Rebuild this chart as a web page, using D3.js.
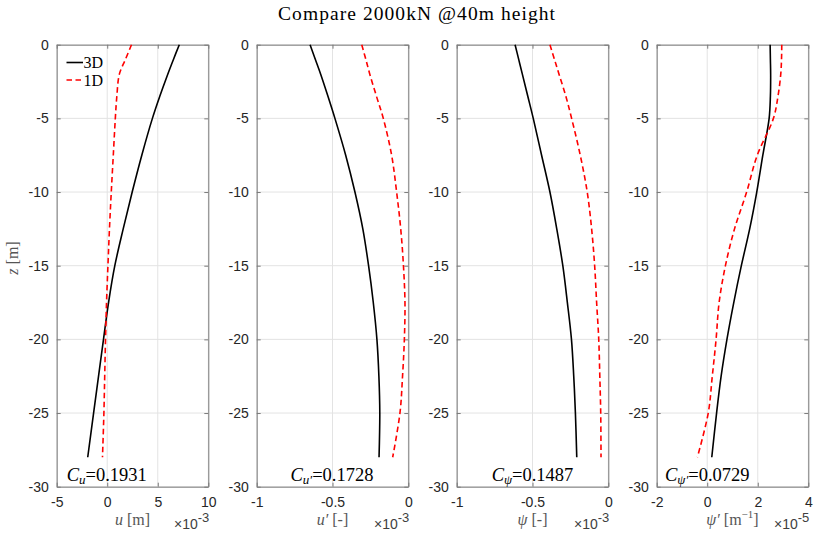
<!DOCTYPE html>
<html>
<head>
<meta charset="utf-8">
<script src="https://cdn.jsdelivr.net/npm/d3@7"></script>
<style>
  html, body { margin: 0; padding: 0; background: #fff; }
  svg { display: block; }
</style>
</head>
<body>
<svg id="chart" width="815" height="536"></svg>
<script>
// Depth below the pile head [m]
const depth = [0, -1, -2, -3.5, -5, -7.5, -10, -12.5, -15, -17.5, -20, -22.5, -25, -28];

// Lateral displacement u (x1e-3 m)
const u3D = [7.13, 6.55, 5.99, 5.2, 4.47, 3.42, 2.47, 1.58, 0.75, 0.13, -0.37, -0.86, -1.35, -1.93];
const u1D = [2.4, 1.8, 1.2, 0.95, 0.8, 0.6, 0.4, 0.22, 0.07, -0.07, -0.17, -0.25, -0.33, -0.47];

// Rotation u' (x1e-3)
const du3D = [-0.648, -0.613, -0.578, -0.53, -0.484, -0.413, -0.352, -0.30, -0.262, -0.231, -0.207, -0.194, -0.188, -0.193];
const du1D = [-0.307, -0.28, -0.254, -0.21, -0.165, -0.11, -0.077, -0.05, -0.032, -0.022, -0.026, -0.038, -0.055, -0.103];

// Shear angle psi (x1e-3)
const psi3D = [-0.615, -0.591, -0.567, -0.531, -0.495, -0.44, -0.385, -0.34, -0.30, -0.27, -0.243, -0.228, -0.217, -0.208];
const psi1D = [-0.385, -0.355, -0.325, -0.28, -0.242, -0.185, -0.139, -0.11, -0.09, -0.077, -0.063, -0.056, -0.05, -0.048];

// Curvature psi' (x1e-5 1/m)
const dpsi3D = [2.49, 2.50, 2.51, 2.50, 2.45, 2.2, 1.96, 1.68, 1.35, 1.05, 0.78, 0.55, 0.37, 0.18];
const dpsi1D = [2.95, 2.94, 2.91, 2.8, 2.62, 1.98, 1.56, 1.08, 0.72, 0.47, 0.35, 0.2, 0.04, -0.39];

// Axis ticks
const zTicks = [0, -5, -10, -15, -20, -25, -30];
const uTicks = [-5, 0, 5, 10];
const duTicks = [-1, -0.5, 0];
const psiTicks = [-1, -0.5, 0];
const dpsiTicks = [-2, 0, 2, 4];

// Correlation coefficients shown in each panel
const corr = [0.1931, 0.1728, 0.1487, 0.0729];

const svg = d3.select("#chart");
const serif = "'Liberation Serif', 'Times New Roman', 'DejaVu Serif', serif";
const sans = "'Liberation Sans', Arial, sans-serif";
const axisColor = "#262626";
const tickText = d => String(d);

const plotTop = 44.7, plotBottom = 486.7, pw = 151.6;
const lefts = [56.7, 256.7, 456.7, 656.7];

const y = d3.scaleLinear().domain([-30, 0]).range([plotBottom, plotTop]);

const panels = [
  { dom: [-5, 10], ticks: uTicks, s3: u3D, s1: u1D, exp: "-3", sym: "u", sub: "u", subPrime: false, anchor: "start", ax: 66.7 },
  { dom: [-1, 0], ticks: duTicks, s3: du3D, s1: du1D, exp: "-3", sym: "u′", sub: "u", subPrime: true, anchor: "middle", ax: 332 },
  { dom: [-1, 0], ticks: psiTicks, s3: psi3D, s1: psi1D, exp: "-3", sym: "ψ", sub: "ψ", subPrime: false, anchor: "middle", ax: 532.5 },
  { dom: [-2, 4], ticks: dpsiTicks, s3: dpsi3D, s1: dpsi1D, exp: "-5", sym: "ψ′", sub: "ψ", subPrime: true, anchor: "start", ax: 665 }
];
const unitLabels = ["m", "-", "-", "m-1"];

panels.forEach((p, i) => {
  const x0 = lefts[i];
  const x = d3.scaleLinear().domain(p.dom).range([x0, x0 + pw]);
  const g = svg.append("g");

  // grid
  g.selectAll("line.gx").data(p.ticks).join("line")
    .attr("x1", d => x(d)).attr("x2", d => x(d))
    .attr("y1", plotTop).attr("y2", plotBottom)
    .attr("stroke", "#e3e3e3").attr("stroke-width", 1);
  g.selectAll("line.gy").data(zTicks).join("line")
    .attr("x1", x0).attr("x2", x0 + pw)
    .attr("y1", d => y(d)).attr("y2", d => y(d))
    .attr("stroke", "#e3e3e3").attr("stroke-width", 1);

  // axes with inward ticks
  const bx = g.append("g").attr("transform", `translate(0,${plotBottom})`)
    .call(d3.axisBottom(x).tickValues(p.ticks).tickSizeInner(-4).tickSizeOuter(0).tickPadding(10).tickFormat(tickText));
  const tx = g.append("g").attr("transform", `translate(0,${plotTop})`)
    .call(d3.axisTop(x).tickValues(p.ticks).tickSizeInner(-4).tickSizeOuter(0).tickFormat(""));
  const ly = g.append("g").attr("transform", `translate(${x0},0)`)
    .call(d3.axisLeft(y).tickValues(zTicks).tickSizeInner(-4).tickSizeOuter(0).tickPadding(8).tickFormat(tickText));
  const ry = g.append("g").attr("transform", `translate(${x0 + pw},0)`)
    .call(d3.axisRight(y).tickValues(zTicks).tickSizeInner(-4).tickSizeOuter(0).tickFormat(""));
  [bx, tx, ly, ry].forEach(a => {
    a.select(".domain").attr("stroke", "#7a7a7a").attr("stroke-width", 1);
    a.selectAll(".tick line").attr("stroke", "#7a7a7a");
    a.selectAll("text").attr("font-family", sans).attr("font-size", 14).attr("fill", axisColor);
  });
  bx.selectAll("text").attr("dy", "0.71em");

  // curves
  const line = d3.line()
    .x(d => x(d[0])).y(d => y(d[1]))
    .curve(d3.curveCatmullRom.alpha(0.5));
  g.append("path").datum(p.s3.map((v, k) => [v, depth[k]]))
    .attr("d", line).attr("fill", "none").attr("stroke", "#000").attr("stroke-width", 1.6);
  g.append("path").datum(p.s1.map((v, k) => [v, depth[k]]))
    .attr("d", line).attr("fill", "none").attr("stroke", "#ff0000").attr("stroke-width", 1.6)
    .attr("stroke-dasharray", "5.5,3.5");

  // x label
  const xl = g.append("text")
    .attr("x", x0 + pw / 2).attr("y", 525)
    .attr("text-anchor", "middle")
    .attr("font-family", serif).attr("font-size", 16).attr("fill", "#555");
  xl.append("tspan").attr("font-style", "italic").text(p.sym);
  if (unitLabels[i] === "m-1") {
    xl.append("tspan").text(" [m");
    xl.append("tspan").attr("font-size", 11).attr("dy", -7).text("−1");
    xl.append("tspan").attr("dy", 7).text("]");
  } else {
    xl.append("tspan").text(` [${unitLabels[i]}]`);
  }

  // exponent multiplier
  const ex = g.append("text")
    .attr("x", x0 + pw + 1).attr("y", 529)
    .attr("text-anchor", "end")
    .attr("font-family", sans).attr("font-size", 14).attr("fill", "#404040");
  ex.append("tspan").text("×10");
  ex.append("tspan").attr("font-size", 13).attr("dy", -7).text(p.exp);

  // coefficient annotation
  const ct = g.append("text")
    .attr("x", p.ax).attr("y", 481)
    .attr("text-anchor", p.anchor)
    .attr("font-family", serif).attr("font-size", 18.5).attr("fill", "#000");
  ct.append("tspan").attr("font-style", "italic").text("C");
  ct.append("tspan").attr("font-style", "italic").attr("font-size", 13).attr("dy", 3)
    .text(p.sub + (p.subPrime ? "′" : ""));
  ct.append("tspan").attr("dy", -3).text("=" + corr[i].toFixed(4));
});

// y label
svg.append("text")
  .attr("transform", `translate(18,258) rotate(-90)`)
  .attr("text-anchor", "middle")
  .attr("font-family", serif).attr("font-size", 16).attr("fill", "#555")
  .call(t => { t.append("tspan").attr("font-style", "italic").text("z"); t.append("tspan").text(" [m]"); });

// legend
const legend = [{ name: "3D", color: "#000", dash: null }, { name: "1D", color: "#ff0000", dash: "5.5,3.5" }];
legend.forEach((l, k) => {
  const yy = 62.5 + k * 17.5;
  svg.append("line").attr("x1", 66.5).attr("x2", 83).attr("y1", yy).attr("y2", yy)
    .attr("stroke", l.color).attr("stroke-width", 1.6).attr("stroke-dasharray", l.dash);
  svg.append("text").attr("x", 83.5).attr("y", yy + 5.5)
    .attr("font-family", serif).attr("font-size", 16).attr("fill", "#000").text(l.name);
});

// title
svg.append("text")
  .attr("x", 416.5).attr("y", 20)
  .attr("text-anchor", "middle")
  .attr("font-family", serif).attr("font-size", 19.5).attr("fill", "#000")
  .attr("textLength", 277).attr("lengthAdjust", "spacing")
  .text("Compare 2000kN @40m height");
</script>
</body>
</html>
